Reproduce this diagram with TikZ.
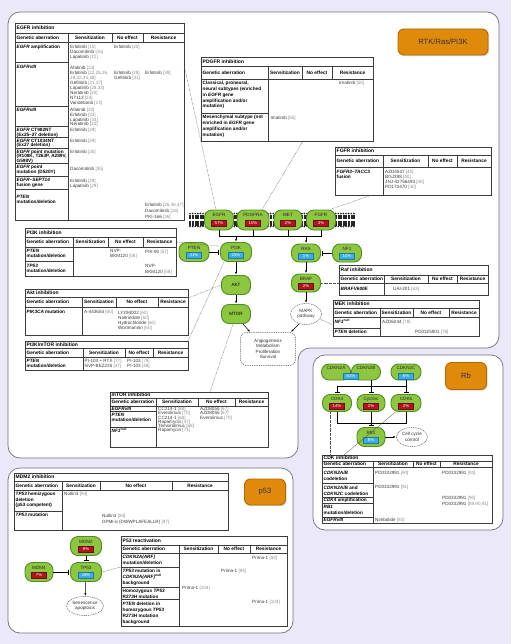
\documentclass[tikz,border=0pt]{standalone}
\usepackage{fontspec}
\setmainfont{Liberation Sans}
\usetikzlibrary{arrows.meta,calc,shapes.geometric,shadows}
\definecolor{bgc}{HTML}{EBE9F9}
\definecolor{pline}{HTML}{707080}
\definecolor{gfill}{HTML}{8DC63F}
\definecolor{gline}{HTML}{4F8C24}
\definecolor{rbad}{HTML}{B3141C}
\definecolor{bbad}{HTML}{3BADE2}
\definecolor{bbadl}{HTML}{1D79AA}
\definecolor{orfill}{HTML}{E08A0B}
\definecolor{orline}{HTML}{B36800}
\definecolor{txtc}{HTML}{3A3A3A}
\definecolor{refc}{HTML}{8C8C8C}
\definecolor{tlc}{HTML}{3C3C3C}
\definecolor{conc}{HTML}{555555}
\newcounter{tn}
\newcommand\rfx[1]{{\color{refc}[#1]}}
\newcommand\rfo[1]{{\color{refc}[#1}}
\newcommand\rfc[1]{{\color{refc}#1]}}
\newcommand\nulsup{\textsuperscript{null}}
\newcommand\setcl[3]{\def\cola{#1}\def\colb{#2}\def\colc{#3}}
\newcommand\tframe[8]{%
  \node[tbox,minimum width={(#4-#2)*1pt},minimum height={(#5-#3)*1pt},anchor=north west] (#1) at (#2,#3) {};
  \draw[tline] (#2,#6) -- (#4,#6) (#2,#7) -- (#4,#7) (\cola,#6) -- (\cola,#5) (\colb,#6) -- (\colb,#7) (\colc,#6) -- (\colc,#7);
  \node[ttl] (#1-ti) at ({#2+1.5},{(#3+#6)/2}) {#8};
  \node[hdr,anchor=west] (#1-h1) at ({#2+1.5},{(#6+#7)/2}) {Genetic aberration};
  \node[hdr] (#1-h2) at ({(\cola+\colb)/2},{(#6+#7)/2}) {Sensitization};
  \node[hdr] (#1-h3) at ({(\colb+\colc)/2},{(#6+#7)/2}) {No effect};
  \node[hdr] (#1-h4) at ({(\colc+#4)/2},{(#6+#7)/2}) {Resistance};
}
\newcommand\crows[2]{\foreach \yy in {#2}{\draw[tline] (#1,\yy) -- (\cola,\yy);}}
\newcommand\tlist[5][txt]{\foreach \itm [count=\k from 0] in {#5}{\stepcounter{tn}\node[#1] (n\thetn) at (#2,{#3+1.7+\k*#4}) {\itm};}}
\newcommand\tput[4][txt]{\stepcounter{tn}\node[#1] (n\thetn) at (#2,{#3+1.7}) {#4};}
\newcommand\gnode[6]{\node[gn,minimum width=#4pt,minimum height=#5pt] (#1) at (#2,#3) {};\node[nl] (#1-l) at (#2,{#3-#5*0.24}) {#6};}
\newcommand\gbadge[5]{\node[#4] (#1) at (#2,#3) {#5};}
\begin{document}
\begin{tikzpicture}[x=1pt,y=-1pt,
  txt/.style={font=\fontsize{4.6}{5}\selectfont, text=txtc, inner sep=0pt, anchor=base west},
  c1/.style={txt, font=\fontsize{4.7}{5}\selectfont\bfseries, text=black},
  hdr/.style={font=\fontsize{4.8}{5}\selectfont\bfseries, inner sep=0pt},
  ttl/.style={font=\fontsize{5}{6}\selectfont\bfseries, inner sep=0pt, anchor=west},
  tbox/.style={draw=tlc, line width=0.5pt, fill=white, inner sep=0pt, outer sep=0pt},
  tline/.style={draw=tlc, line width=0.45pt},
  panel/.style={draw=pline, line width=0.7pt, fill=white, rounded corners=12pt},
  gn/.style={draw=gline, fill=gfill, line width=0.9pt, rounded corners=7.5pt, inner sep=0pt},
  nl/.style={font=\fontsize{4.6}{5}\selectfont, text=black!85, inner sep=0pt},
  badge/.style={minimum width=15pt, minimum height=6pt, inner sep=0pt, font=\fontsize{4.3}{4.5}\selectfont, text=white, line width=0.3pt},
  rbd/.style={badge, fill=rbad, draw=rbad!60!black},
  bbd/.style={badge, fill=bbad, draw=bbadl},
  dsh/.style={draw=conc, dash pattern=on 1pt off 0.8pt, fill=white, line width=0.5pt, font=\fontsize{4.6}{5.3}\selectfont, text=black!80, align=center, inner sep=0pt},
  leg/.style={draw=orline, fill=orfill, line width=0.9pt, rounded corners=6pt, font=\fontsize{7.6}{9}\selectfont, text=black!80, drop shadow={opacity=0.35,shadow xshift=1.2pt,shadow yshift=-1.2pt}},
  cn/.style={draw=black, line width=0.5pt},
  arr/.style={cn, -{Stealth[length=2.6pt,width=2.2pt]}, shorten >=0.8pt},
  inh/.style={cn, -{Bar[width=5pt]}, shorten >=1.5pt},
  dotc/.style={draw=conc, line width=0.45pt, dash pattern=on 0.5pt off 0.8pt},
]
\fill[bgc] (0,0) rectangle (511,644);
\useasboundingbox (0,0) rectangle (511,644);
% panels
\path[panel] (200,12) -- (499,12) -- (499,348) -- (298,348) -- (298,458) -- (8,458) -- (8,12) -- cycle;
\path[panel] (313,355) rectangle (503,530);
\path[panel] (8,468) rectangle (293,633);
% legends
\node[leg, minimum width=90pt, minimum height=26pt] (legrtk) at (443,42) {RTK/Ras/PI3K};
\node[leg, minimum width=41pt, minimum height=27pt] (legrb) at (466,376) {Rb};
\node[leg, minimum width=41pt, minimum height=26pt] (legp53) at (265,492) {p53};

% ===== EGFR table
\setcl{68}{112}{143}
\tframe{egfrT}{15}{23}{184}{220}{33}{42}{EGFR inhibition}
\crows{15}{62,106,126,137,148,163,176,189}
\tput[c1]{16.5}{47}{\textit{EGFR} amplification}
\tput[c1]{16.5}{67}{\textit{EGFRvIII}}
\tput[c1]{16.5}{110}{\textit{EGFRvIII}}
\tlist[c1]{16.5}{130}{4.5}{{\textit{EGFR} CT982NT},{(Ex25–27 deletion)}}
\tlist[c1]{16.5}{140.5}{4.5}{{\textit{EGFR} CT1034NT},{(Ex27 deletion)}}
\tlist[c1]{16.5}{151.5}{4.5}{{\textit{EGFR} point mutation},{(R108K, T263P, A289V,},{G598V)}}
\tlist[c1]{16.5}{167}{4.5}{{\textit{EGFR} point},{mutation (D520Y)}}
\tlist[c1]{16.5}{180}{4.5}{{\textit{EGFR–SEPT14}},{fusion gene}}
\tlist[c1]{16.5}{197}{5}{{\textit{PTEN}},{mutation/deletion}}
\tlist{70}{47}{5}{{Erlotinib \rfx{15}},{Dacomitinib \rfx{16}},{Lapatinib \rfx{12}}}
\tlist{70}{68}{5}{{Afatinib \rfx{33}},{Erlotinib \rfo{22,25,26,}},{\rfc{28,32,35,38}},{Gefitinib \rfx{21,27}},{Lapatinib \rfx{28,33}},{Neratinib \rfx{33}},{NT113 \rfx{24}},{Vandetanib \rfx{23}}}
\tlist{70}{110}{4.7}{{Afatinib \rfx{33}},{Erlotinib \rfx{33}},{Lapatinib \rfx{33}},{Neratinib \rfx{33}}}
\tput{70}{130}{Erlotinib \rfx{29}}
\tput{70}{141}{Erlotinib \rfx{29}}
\tput{70}{151.5}{Erlotinib \rfx{30}}
\tput{70}{169}{Dacomitinib \rfx{35}}
\tlist{70}{181}{4.7}{{Erlotinib \rfx{29}},{Lapatinib \rfx{29}}}
\tput{114}{47}{Erlotinib \rfx{20}}
\tlist{114}{73}{5}{{Erlotinib \rfx{29}},{Gefitinib \rfx{31}}}
\tput{145}{73}{Erlotinib \rfx{38}}
\tlist{145}{205}{5.8}{{Erlotinib \rfx{26,46,47}},{Dacomitinib \rfx{16}},{PKI-166 \rfx{36}}}

% ===== PDGFR table
\setcl{268}{302}{332}
\tframe{pdgfrT}{201}{57}{373}{141}{66}{79}{PDGFR inhibition}
\crows{201}{113}
\tlist[c1]{202.5}{83}{5.8}{{Classical, proneural,},{neural subtypes (enriched},{in \textit{EGFR} gene},{amplification and/or},{mutation)}}
\tlist[c1]{202.5}{117}{5.8}{{Mesenchymal subtype (not},{enriched in \textit{EGFR} gene},{amplification and/or},{mutation)}}
\tput{339}{83}{Imatinib \rfx{55}}
\tput{270.5}{118}{Imatinib \rfx{55}}

% ===== FGFR table
\setcl{383}{428}{457}
\tframe{fgfrT}{335}{147}{491}{195}{155}{167}{FGFR inhibition}
\tlist[c1]{336.5}{172}{5}{{\textit{FGFR3–TACC3}},{fusion}}
\tlist{385}{172}{5}{{AZD4547 \rfx{40}},{BGJ398 \rfx{40}},{JNJ-42756493 \rfx{40}},{PD173470 \rfx{40}}}

% ===== PI3K table
\setcl{73}{108}{143}
\tframe{pi3kT}{25}{228}{176}{276}{237}{247}{PI3K inhibition}
\crows{25}{261}
\tlist[c1]{26.5}{251}{5}{{\textit{PTEN}},{mutation/deletion}}
\tlist[c1]{26.5}{265.5}{5}{{\textit{TP53}},{mutation/deletion}}
\tlist{110}{251}{5}{{NVP-},{BKM120 \rfx{58}}}
\tput{145}{252}{PIK-90 \rfx{57}}
\tlist{145}{266}{5.5}{{NVP-},{BKM120 \rfx{58}}}

% ===== Akt table
\setcl{82}{116}{158}
\tframe{aktT}{25}{289}{188}{335}{297}{307}{Akt inhibition}
\tput[c1]{26.5}{312}{\textit{PIK3CA} mutation}
\tput{84}{312}{A-443654 \rfx{60}}
\tlist{118}{313}{5}{{LY294002 \rfx{60}},{Naltrindole \rfx{60}},{Hydrochloride \rfx{60}},{Wortmannin \rfx{60}}}

% ===== PI3K/mTOR table
\setcl{83}{125}{153}
\tframe{pmT}{25}{341}{188}{370}{348}{357}{PI3K/mTOR inhibition}
\tlist[c1]{26.5}{361}{5}{{\textit{PTEN}},{mutation/deletion}}
\tlist{84.5}{361}{5}{{PI-103 + RTX \rfx{77}},{NVP-BEZ235 \rfx{37}}}
\tlist{127}{361}{5}{{PI-103 \rfx{79}},{PI-103 \rfx{48}}}

% ===== mTOR table
\setcl{156}{198}{235}
\tframe{mtorT}{110}{392}{268}{447}{398}{406}{mTOR inhibition}
\crows{110}{411,427}
\tput[c1]{111.5}{408.5}{\textit{EGFRvIII}}
\tlist[c1]{111.5}{414.5}{5}{{\textit{PTEN}},{mutation/deletion}}
\tput[c1]{111.5}{431}{\textit{NF1}\nulsup}
\tlist{158}{409}{4.2}{{CC214-1 \rfx{68}},{Everolimus \rfx{70}},{CC214-1 \rfx{68}},{Rapamycin \rfx{47}},{Temsirolimus \rfx{68}},{Rapamycin \rfx{71}}}
\tlist{200}{409}{4.2}{{AZD8055 \rfx{67}},{AZD8055 \rfx{67}},{Everolimus \rfx{70}}}

% ===== Raf table
\setcl{384}{428}{457}
\tframe{rafT}{339}{265}{488}{295}{275}{283}{Raf inhibition}
\tput[c1]{340.5}{289}{\textit{BRAFV600E}}
\tput{393}{289}{UAI-201 \rfx{63}}

% ===== MEK table
\setcl{380}{413}{449}
\tframe{mekT}{333}{300}{479}{336}{308}{317}{MEK inhibition}
\crows{333}{328}
\tput[c1]{334.5}{322}{\textit{NF1}\nulsup}
\tput[c1]{334.5}{332}{\textit{PTEN} deletion}
\tput{382}{322}{AZD6244 \rfx{78}}
\tput{415}{332}{PD0325901 \rfx{78}}

% ===== CDK table
\setcl{373}{413}{440}
\tframe{cdkT}{322}{455}{492}{523}{461}{467}{CDK inhibition}
\crows{322}{483,497,503,517}
\tlist[c1]{323.5}{473}{5.5}{{\textit{CDKN2A/B}},{codeletion}}
\tlist[c1]{323.5}{488}{5.5}{{\textit{CDKN2A/B} and},{\textit{CDKN2C} codeletion}}
\tput[c1]{323.5}{500}{\textit{CDK4} amplification}
\tlist[c1]{323.5}{507}{5.8}{{\textit{RB1}},{mutation/deletion}}
\tput[c1]{323.5}{520}{\textit{EGFRvIII}}
\tput{375}{473}{PD0332991 \rfx{90}}
\tput{442}{473}{PD0332991 \rfx{93}}
\tput{375}{487}{PD0332991 \rfx{91}}
\tlist{442}{498}{5.8}{{PD0332991 \rfx{90}},{PD0332991 \rfx{89,90,91}}}
\tput{375}{520}{Nimbolide \rfx{92}}

% ===== MDM2 table
\setcl{62}{100}{172}
\tframe{mdm2T}{14}{473}{228}{530}{481}{490}{MDM2 inhibition}
\crows{14}{511}
\tlist[c1]{15.5}{494}{5.3}{{\textit{TP53} hemizygous},{deletion},{(p53 competent)}}
\tput[c1]{15.5}{515}{\textit{TP53} mutation}
\tput{64}{494}{Nutlin3 \rfx{94}}
\tlist{102}{516}{5.3}{{Nutlin3 \rfx{94}},{DPMI-α (DWWPLAFEALLR) \rfx{97}}}

% ===== P53 reactivation table
\setcl{179}{218}{250}
\tframe{p53T}{121}{536}{287}{626}{545}{553}{P53 reactivation}
\crows{121}{567,587,599}
\tlist[c1]{122.5}{557}{5.8}{{\textit{CDKN2A(ARF)}},{mutation/deletion}}
\tlist[c1]{122.5}{571}{5.8}{{\textit{TP53} mutation in},{\textit{CDKN2A(ARF)}\nulsup},{background}}
\tlist[c1]{122.5}{590.5}{5.8}{{Homozygous \textit{TP53}},{R273H mutation}}
\tlist[c1]{122.5}{604}{6}{{\textit{PTEN} deletion in},{homozygous \textit{TP53}},{R273H mutation},{background}}
\tput{252}{558}{Prima-1 \rfx{94}}
\tput{221}{571}{Prima-1 \rfx{94}}
\tput{182}{588}{Prima-1 \rfx{104}}
\tput{252}{602}{Prima-1 \rfx{104}}

% ===== membrane
\foreach \xx in {190,192.6,...,356}{
  \fill[black!85] (\xx,213.5) circle (0.95) (\xx,226.5) circle (0.95);
  \draw[black!85,line width=0.3pt] (\xx-0.45,214.5) -- (\xx-0.45,219.3) (\xx+0.45,214.5) -- (\xx+0.45,219.3)
     (\xx-0.45,220.7) -- (\xx-0.45,225.5) (\xx+0.45,220.7) -- (\xx+0.45,225.5);
}

% ===== nodes: RTK / Ras / PI3K
\gnode{egfr}{219}{220}{29}{20}{EGFR} \gbadge{egfrb}{219}{223.5}{rbd}{57\%}
\gnode{pdgfra}{253}{220}{32}{20}{PDGFRA} \gbadge{pdgfrab}{253}{223.5}{rbd}{10\%}
\gnode{met}{288}{220}{28}{20}{MET} \gbadge{metb}{288}{223.5}{rbd}{2\%}
\gnode{fgfr}{321}{220}{29}{20}{FGFR} \gbadge{fgfrb}{321}{223.5}{rbd}{3\%}
\gnode{pten}{194}{252}{30}{19}{PTEN} \gbadge{ptenb}{194}{255.5}{bbd}{41\%}
\gnode{pi3k}{236}{252}{31}{19}{PI3K} \gbadge{pi3kb}{236}{255.5}{bbd}{25\%}
\gnode{ras}{306}{253}{29}{18}{RAS} \gbadge{rasb}{306}{256}{bbd}{1\%}
\gnode{nf1}{347}{253}{29}{18}{NF1} \gbadge{nf1b}{347}{256}{bbd}{10\%}
\gnode{braf}{306}{283}{29}{18}{BRAF} \gbadge{brafb}{306}{286}{rbd}{2\%}
\node[gn, minimum width=29pt, minimum height=19pt, font=\fontsize{4.6}{5}\selectfont] (akt) at (236,285) {AKT};
\node[gn, minimum width=29pt, minimum height=19pt, font=\fontsize{4.6}{5}\selectfont] (mtor) at (236,314) {MTOR};
\node[dsh, ellipse, minimum width=31pt, minimum height=21pt] (mapk) at (306,314) {MAPK\\pathway};
\node[dsh, rounded corners=6pt, minimum width=55pt, minimum height=33pt] (angio) at (268,349) {Angiogenesis\\Metabolism\\Proliferation\\Survival};

% ===== nodes: Rb
\gnode{cdkn2a}{336}{372}{29}{16}{CDKN2A}
\gnode{cdkn2b}{366}{372}{29}{16}{CDKN2B}
\gbadge{cdknb}{351}{376}{bbd}{61\%}
\gnode{cdkn2c}{406}{372}{30}{16}{CDKN2C} \gbadge{cdkn2cb}{406}{376}{bbd}{6\%}
\gnode{cdk4}{337}{403}{29}{17}{CDK4} \gbadge{cdk4b}{337}{406.5}{rbd}{14\%}
\gnode{cyclins}{371}{403}{28}{17}{Cyclins} \gbadge{cyclinsb}{371}{406.5}{rbd}{2\%}
\gnode{cdk6}{406}{403}{30}{17}{CDK6} \gbadge{cdk6b}{406}{406.5}{rbd}{2\%}
\gnode{rb1}{371}{437}{28}{19}{RB1} \gbadge{rb1b}{371}{440.5}{bbd}{8\%}
\node[dsh, ellipse, minimum width=31pt, minimum height=19pt] (cellc) at (412,437) {Cell cycle\\control};

% ===== nodes: p53
\gnode{mdm2}{86}{546}{31}{19}{MDM2} \gbadge{mdm2b}{86}{549.5}{rbd}{8\%}
\gnode{tp53}{86}{572}{31}{19}{TP53} \gbadge{tp53b}{86}{575.5}{bbd}{28\%}
\gnode{mdm4}{39}{572}{28}{19}{MDM4} \gbadge{mdm4b}{39}{575.5}{rbd}{7\%}
\node[dsh, ellipse, minimum width=37pt, minimum height=19pt] (senes) at (85,606) {Senescence\\apoptosis};

% ===== connectors: pathway
\coordinate (tb) at (0,236);
\draw[cn] (egfr.south) -- (egfr.south |- tb) -- (fgfr.south |- tb) -- (fgfr.south);
\draw[cn] (pdgfra.south) -- (pdgfra.south |- tb) (met.south) -- (met.south |- tb);
\draw[arr] (pi3k.north |- tb) -- (pi3k.north);
\draw[arr] (ras.north |- tb) -- (ras.north);
\draw[arr] (pi3k) -- (akt);
\draw[arr] (akt) -- (mtor);
\draw[arr] (ras) -- (braf);
\draw[arr] (braf) -- (mapk);
\draw[inh] (pten) -- (pi3k);
\draw[inh] (nf1) -- (ras);
\draw[arr] (mtor.-55) -- ($(angio.north west)+(10,0)$);
\draw[arr] (mapk.235) -- ($(angio.north east)+(-5,0)$);

% Rb
\coordinate (ub) at (0,386);
\coordinate (lb) at (0,423);
\draw[cn] (cyclins.north |- cdkn2b.south) -- (cyclins.north |- ub);
\draw[cn] (cdkn2c.south) -- (cdkn2c.south |- ub);
\draw[cn] (cdk4.north |- ub) -- (cdk6.north |- ub);
\draw[inh] (cdk4.north |- ub) -- (cdk4.north);
\draw[inh] (cyclins.north |- ub) -- (cyclins.north);
\draw[inh] (cdk6.north |- ub) -- (cdk6.north);
\draw[cn] (cdk4.south) -- (cdk4.south |- lb) -- (cdk6.south |- lb) -- (cdk6.south);
\draw[cn] (cyclins.south) -- (cyclins.south |- lb);
\draw[inh] (cyclins.south |- lb) -- (rb1.north);
\draw[arr] (rb1) -- (cellc);

% p53
\draw[inh] (mdm2) -- (tp53);
\draw[inh] (mdm4) -- (tp53);
\draw[arr] (tp53) -- (senes);

% ===== dotted table connectors
\draw[dotc] ($(egfrT.north east)+(0,42)$) -- ($(egfr.north)+(-3,0)$);
\draw[dotc] ($(pdgfrT.south west)+(102,0)$) -- ($(pdgfra.north)+(9,0)$);
\draw[dotc] ($(fgfrT.south west)+(37,0)$) -- ($(fgfr.north)+(9,0)$);
\draw[dotc] ($(pi3kT.north east)+(0,14)$) -- (pi3k.160);
\draw[dotc] ($(aktT.north east)+(0,9)$) -- (akt.west);
\draw[dotc] (pmT.north east) -- ($(pi3k.south west)+(4,0)$);
\draw[dotc] ($(mtor.south)+(-3,0)$) -- ($(mtorT.north west)+(100,0)$);
\draw[dotc] (braf.east) -- (braf.east -| rafT.west);
\draw[dotc] (mapk.-20) -- ($(mekT.north west)+(0,25)$);
\draw[dotc] ($(cdk4.south)+(-7,0)$) -- ($(cdkT.north west)+(8,0)$);
\draw[draw=conc, line width=0.3pt] ($(cdk6.south west)+(5,0)$) -- ($(cdkT.north west)+(22,0)$);
\draw[dotc] (tp53.east) -- ($(p53T.north west)+(0,31)$);
\end{tikzpicture}
\end{document}
